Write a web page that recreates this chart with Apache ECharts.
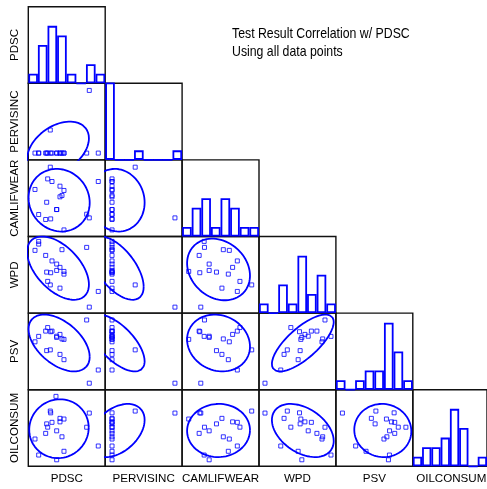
<!DOCTYPE html>
<html>
<head>
<meta charset="utf-8">
<script src="https://cdn.jsdelivr.net/npm/echarts@6/dist/echarts.min.js"></script>
<style>
  html, body { margin: 0; padding: 0; background: #fff; }
  #chart { width: 487px; height: 489px; }
</style>
</head>
<body>
<div id="chart"></div>
<script>
// Variables of the scatter-plot matrix (rows top to bottom, columns left to right)
const variables = ['PDSC', 'PERVISINC', 'CAMLIFWEAR', 'WPD', 'PSV', 'OILCONSUM'];

// Observations, each variable on a 0-100 display scale (null = missing)
const PDSC       = [8.7, 13.5, 13.5, 22.6, 23.9, 25.2, 28.6, 29.1, 30.8, 36.9, 36.9, 41.2, 41.2, 43.8, 46.4, 46.4, 75.9, 79.3, 91.0, 36.0];
const PERVISINC  = [8.9, 8.9, 8.9, 8.9, 8.9, 8.9, 39.0, 8.9, 8.9, 8.9, 8.9, 8.9, 8.9, 8.9, 8.9, 8.9, 8.9, 90.7, 8.9, null];
const CAMLIFWEAR = [61.4, 28.7, null, 22.2, 44.7, 75.2, 90.5, 23.0, 71.8, 35.2, 35.2, 65.7, 51.8, 53.6, 60.1, 8.6, 29.1, 24.3, 71.8, null];
const WPD        = [81.9, 93.6, 90.1, 75.3, 53.5, 41.4, 36.8, 52.7, 68.1, 64.0, 55.7, 59.7, 32.6, 82.8, 50.9, 54.4, 85.8, 7.8, 28.3, null];
const PSV        = [62.5, 69.6, null, 76.5, 51.0, 81.1, 52.0, 75.7, 76.5, 69.8, 68.3, 72.2, 46.1, 66.3, 39.2, 65.7, 91.0, 8.5, 25.7, null];
const OILCONSUM  = [35.6, 14.7, null, 43.0, 55.4, 51.1, 72.1, 69.8, 57.4, 46.3, 8.5, 58.0, 62.6, 38.5, 19.6, 61.7, 51.0, 69.5, 26.5, 91.3];

// Histogram counts on the diagonal (8 equal bins across each variable's range)
const histPDSC       = [1, 4, 6, 5, 1, 0, 2, 1];
const histPERVISINC  = [18, 0, 0, 1, 0, 0, 0, 1];
const histCAMLIFWEAR = [1, 3, 4, 1, 4, 3, 1, 1];
const histWPD        = [1, 0, 3, 1, 6, 2, 4, 1];
const histPSV        = [1, 0, 1, 2, 2, 7, 4, 1];
const histOILCONSUM  = [1, 2, 2, 3, 6, 4, 0, 1];
const histBins = ['1', '2', '3', '4', '5', '6', '7', '8'];
const histMax = 8;

const columns = [PDSC, PERVISINC, CAMLIFWEAR, WPD, PSV, OILCONSUM];
const hists = [histPDSC, histPERVISINC, histCAMLIFWEAR, histWPD, histPSV, histOILCONSUM];

// 80% normal-theory ellipse
const ELLIPSE_P = 0.8;

const titleLines = ['Test Result Correlation w/ PDSC', 'Using all data points'];

// ---- layout ----
const LEFT = 28.3, TOP = 6.7, CW = 76.9, CH = 76.6;
const BLUE = '#0000ff';
const FONT = 'Liberation Sans, Arial, sans-serif';

function pairs(xs, ys) {
  const out = [];
  for (let i = 0; i < xs.length; i++) {
    if (xs[i] != null && ys[i] != null) out.push([xs[i], ys[i]]);
  }
  return out;
}

function ellipse(pts, p) {
  const n = pts.length;
  let mx = 0, my = 0;
  pts.forEach(d => { mx += d[0]; my += d[1]; });
  mx /= n; my /= n;
  let sxx = 0, syy = 0, sxy = 0;
  pts.forEach(d => {
    const dx = d[0] - mx, dy = d[1] - my;
    sxx += dx * dx; syy += dy * dy; sxy += dx * dy;
  });
  sxx /= (n - 1); syy /= (n - 1); sxy /= (n - 1);
  const c = Math.sqrt(-2 * Math.log(1 - p));
  const l11 = Math.sqrt(sxx);
  const l21 = sxy / l11;
  const l22 = Math.sqrt(Math.max(syy - l21 * l21, 0));
  const out = [];
  const N = 160;
  for (let k = 0; k <= N; k++) {
    const t = 2 * Math.PI * k / N;
    const u = Math.cos(t), v = Math.sin(t);
    out.push([mx + c * l11 * u, my + c * (l21 * u + l22 * v)]);
  }
  return out;
}

const grid = [], xAxis = [], yAxis = [], series = [];

for (let r = 0; r < variables.length; r++) {
  for (let c = 0; c <= r; c++) {
    const gi = grid.length;
    grid.push({
      left: LEFT + c * CW, top: TOP + r * CH, width: CW, height: CH,
      show: true, borderColor: '#111', borderWidth: 1.4, backgroundColor: 'transparent'
    });
    if (r === c) {
      xAxis.push({ gridIndex: gi, type: 'category', data: histBins, show: false, boundaryGap: true });
      yAxis.push({ gridIndex: gi, type: 'value', min: 0, max: histMax, show: false, splitLine: { show: false } });
      series.push({
        type: 'bar', xAxisIndex: gi, yAxisIndex: gi, data: hists[r],
        barCategoryGap: '0%', clip: true, silent: true,
        itemStyle: { color: 'rgba(255,255,255,0)', borderColor: BLUE, borderWidth: 1.8 }
      });
    } else {
      xAxis.push({ gridIndex: gi, type: 'value', min: 0, max: 100, show: false, splitLine: { show: false } });
      yAxis.push({ gridIndex: gi, type: 'value', min: 0, max: 100, show: false, splitLine: { show: false } });
      const pts = pairs(columns[c], columns[r]);
      series.push({
        type: 'line', xAxisIndex: gi, yAxisIndex: gi, data: ellipse(pts, ELLIPSE_P),
        showSymbol: false, clip: true, silent: true, smooth: false,
        lineStyle: { color: BLUE, width: 1.8 }
      });
      series.push({
        type: 'scatter', xAxisIndex: gi, yAxisIndex: gi, data: pts,
        symbol: 'rect', symbolSize: 4, silent: true,
        itemStyle: { color: 'rgba(255,255,255,0)', borderColor: BLUE, borderWidth: 1 }
      });
    }
  }
}

const graphic = [];
variables.forEach((name, i) => {
  graphic.push({
    type: 'text', x: LEFT + (i + 0.5) * CW, y: 478.3, silent: true,
    style: { text: name, fill: '#000', font: '11.6px ' + FONT, align: 'center', verticalAlign: 'middle' }
  });
  graphic.push({
    type: 'text', x: 14.5, y: TOP + (i + 0.5) * CH, rotation: Math.PI / 2, silent: true,
    style: { text: name, fill: '#000', font: '11.6px ' + FONT, align: 'center', verticalAlign: 'middle' }
  });
});
titleLines.forEach((line, i) => {
  graphic.push({
    type: 'text', x: 232, y: 33.7 + i * 17.8, scaleX: 0.82, silent: true,
    style: { text: line, fill: '#000', font: '15px ' + FONT, align: 'left', verticalAlign: 'middle' }
  });
});

const chart = echarts.init(document.getElementById('chart'), null, { renderer: 'canvas' });
chart.setOption({
  animation: false,
  backgroundColor: '#fff',
  grid, xAxis, yAxis, series, graphic
});
</script>
</body>
</html>
